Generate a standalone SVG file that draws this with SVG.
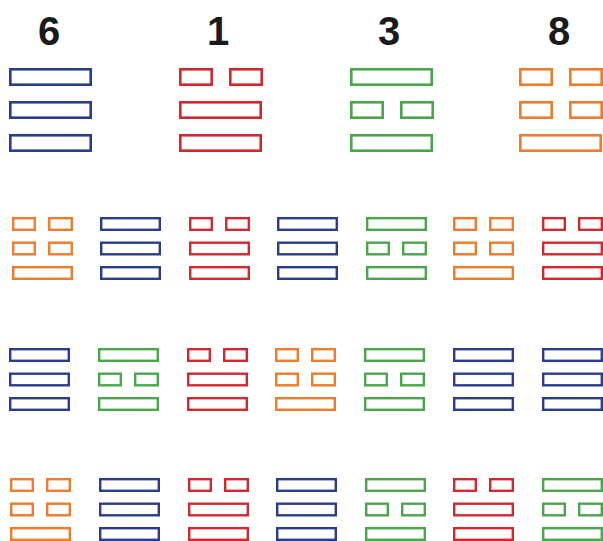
<svg xmlns="http://www.w3.org/2000/svg" width="603" height="541" viewBox="0 0 603 541">
<style>
.bar{fill:none}
.big{stroke-width:2.6}
.sm{stroke-width:2.4}
.blue{stroke:#2a3c8e}
.red{stroke:#d2282e}
.green{stroke:#4aa64a}
.orange{stroke:#ef7b2b}
.lbl{font-family:"Liberation Sans",Arial,sans-serif;font-weight:bold;font-size:40px;fill:#1a1a1a;text-anchor:middle}
</style>
<defs>
<g id="BS"><rect class="bar" x="1.3" y="1.3" width="80.4" height="15.4"/></g>
<g id="BB"><rect class="bar" x="1.3" y="1.3" width="31.4" height="15.4"/><rect class="bar" x="51.3" y="1.3" width="31.4" height="15.4"/></g>
<g id="SS"><rect class="bar" x="1.2" y="1.2" width="58.6" height="11.6"/></g>
<g id="SB"><rect class="bar" x="1.2" y="1.2" width="21.6" height="11.6"/><rect class="bar" x="37.2" y="1.2" width="22.6" height="11.6"/></g>
</defs>
<rect width="603" height="541" fill="#fff"/>
<g id="labels">
<text class="lbl" x="49" y="45">6</text>
<text class="lbl" x="218" y="45">1</text>
<text class="lbl" x="389" y="45">3</text>
<text class="lbl" x="559" y="45">8</text>
</g>
<g id="top-6" class="big blue"><use href="#BS" x="9" y="68"/><use href="#BS" x="9" y="101"/><use href="#BS" x="9" y="134"/></g>
<g id="top-1" class="big red"><use href="#BB" x="179" y="68"/><use href="#BS" x="179" y="101"/><use href="#BS" x="179" y="134"/></g>
<g id="top-3" class="big green"><use href="#BS" x="350" y="68"/><use href="#BB" x="350" y="101"/><use href="#BS" x="350" y="134"/></g>
<g id="top-8" class="big orange"><use href="#BB" x="519" y="68"/><use href="#BB" x="519" y="101"/><use href="#BS" x="519" y="134"/></g>

<g id="r2c1" class="sm orange"><use href="#SB" x="12" y="217"/><use href="#SB" x="12" y="241.5"/><use href="#SS" x="12" y="266"/></g>
<g id="r2c2" class="sm blue"><use href="#SS" x="100" y="217"/><use href="#SS" x="100" y="241.5"/><use href="#SS" x="100" y="266"/></g>
<g id="r2c3" class="sm red"><use href="#SB" x="189" y="217"/><use href="#SS" x="189" y="241.5"/><use href="#SS" x="189" y="266"/></g>
<g id="r2c4" class="sm blue"><use href="#SS" x="277" y="217"/><use href="#SS" x="277" y="241.5"/><use href="#SS" x="277" y="266"/></g>
<g id="r2c5" class="sm green"><use href="#SS" x="366" y="217"/><use href="#SB" x="366" y="241.5"/><use href="#SS" x="366" y="266"/></g>
<g id="r2c6" class="sm orange"><use href="#SB" x="453" y="217"/><use href="#SB" x="453" y="241.5"/><use href="#SS" x="453" y="266"/></g>
<g id="r2c7" class="sm red"><use href="#SB" x="542" y="217"/><use href="#SS" x="542" y="241.5"/><use href="#SS" x="542" y="266"/></g>

<g id="r3c1" class="sm blue"><use href="#SS" x="9" y="348"/><use href="#SS" x="9" y="372.5"/><use href="#SS" x="9" y="397"/></g>
<g id="r3c2" class="sm green"><use href="#SS" x="98" y="348"/><use href="#SB" x="98" y="372.5"/><use href="#SS" x="98" y="397"/></g>
<g id="r3c3" class="sm red"><use href="#SB" x="187" y="348"/><use href="#SS" x="187" y="372.5"/><use href="#SS" x="187" y="397"/></g>
<g id="r3c4" class="sm orange"><use href="#SB" x="275" y="348"/><use href="#SB" x="275" y="372.5"/><use href="#SS" x="275" y="397"/></g>
<g id="r3c5" class="sm green"><use href="#SS" x="364" y="348"/><use href="#SB" x="364" y="372.5"/><use href="#SS" x="364" y="397"/></g>
<g id="r3c6" class="sm blue"><use href="#SS" x="453" y="348"/><use href="#SS" x="453" y="372.5"/><use href="#SS" x="453" y="397"/></g>
<g id="r3c7" class="sm blue"><use href="#SS" x="542" y="348"/><use href="#SS" x="542" y="372.5"/><use href="#SS" x="542" y="397"/></g>

<g id="r4c1" class="sm orange"><use href="#SB" x="10" y="478"/><use href="#SB" x="10" y="502.5"/><use href="#SS" x="10" y="527"/></g>
<g id="r4c2" class="sm blue"><use href="#SS" x="99" y="478"/><use href="#SS" x="99" y="502.5"/><use href="#SS" x="99" y="527"/></g>
<g id="r4c3" class="sm red"><use href="#SB" x="188" y="478"/><use href="#SS" x="188" y="502.5"/><use href="#SS" x="188" y="527"/></g>
<g id="r4c4" class="sm blue"><use href="#SS" x="276" y="478"/><use href="#SS" x="276" y="502.5"/><use href="#SS" x="276" y="527"/></g>
<g id="r4c5" class="sm green"><use href="#SS" x="365" y="478"/><use href="#SB" x="365" y="502.5"/><use href="#SS" x="365" y="527"/></g>
<g id="r4c6" class="sm red"><use href="#SB" x="453" y="478"/><use href="#SS" x="453" y="502.5"/><use href="#SS" x="453" y="527"/></g>
<g id="r4c7" class="sm green"><use href="#SS" x="542" y="478"/><use href="#SB" x="542" y="502.5"/><use href="#SS" x="542" y="527"/></g>
</svg>
